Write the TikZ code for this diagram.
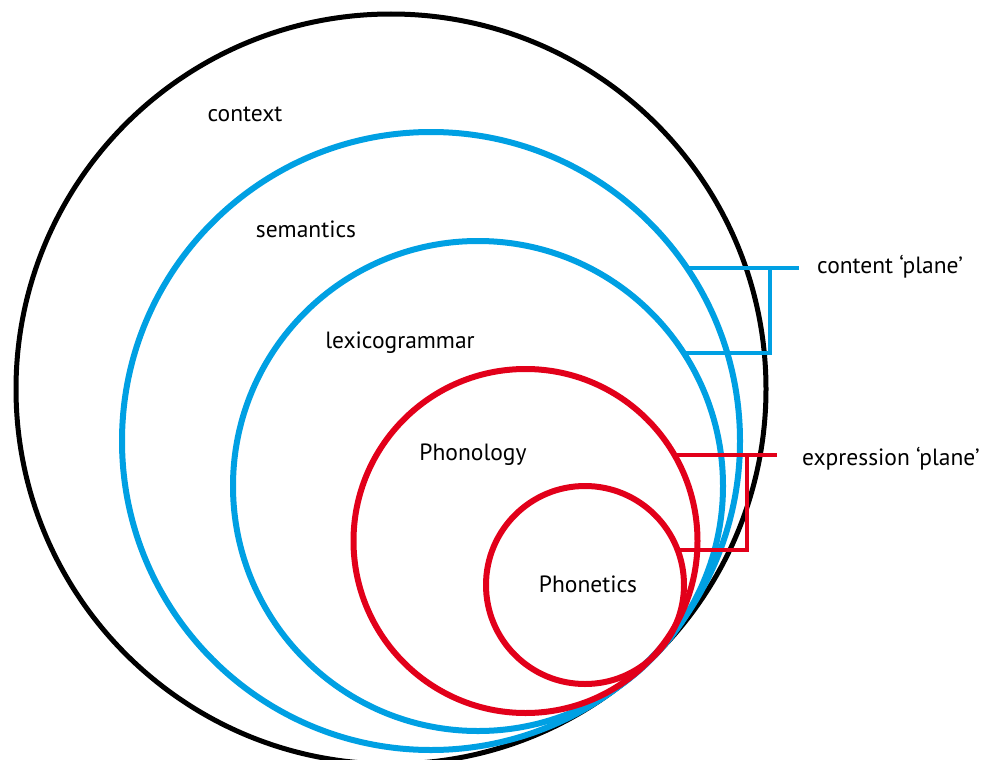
\documentclass[tikz,border=0pt]{standalone}
\usepackage{fontspec}
\setmainfont{PT Sans}
\definecolor{cblue}{RGB}{0,160,227}
\definecolor{cred}{RGB}{226,0,26}
\begin{document}
\begin{tikzpicture}[x=1pt,y=-1pt,
  ring/.style={circle,draw,inner sep=0pt,outer sep=0pt,minimum size=#1},
  lbl/.style={font=\fontsize{23.5}{26}\selectfont,text=black,inner sep=0pt},
  bracketline/.style={line width=4pt,line join=miter}]
\useasboundingbox (0,0) rectangle (985,760);
\fill[white] (0,0) rectangle (985,760);
\node[ring=750pt,line width=5pt,draw=black] (ctx) at (391,389) {};
\node[ring=618pt,line width=6pt,draw=cblue] (sem) at (431,441) {};
\node[ring=490pt,line width=6pt,draw=cblue] (lex) at (478,486) {};
% content bracket
\coordinate (cbx) at (770,0);
\coordinate (cex) at (799,0);
\draw[bracketline,draw=cblue] (sem.34.7) -- (sem.34.7 -| cex);
\draw[bracketline,draw=cblue] (sem.34.7 -| cbx) -- (lex.33.7 -| cbx) -- (lex.33.7);
\node[ring=344pt,line width=6pt,draw=cred] (phon) at (525.5,541) {};
\node[ring=198pt,line width=6pt,draw=cred] (phnt) at (585,585) {};
% expression bracket
\coordinate (ebx) at (747,0);
\coordinate (eex) at (777,0);
\draw[bracketline,draw=cred] (phon.30) -- (phon.30 -| eex);
\draw[bracketline,draw=cred] (phon.30 -| ebx) -- (phnt.21.9 -| ebx) -- (phnt.21.9);
% labels
\node[lbl] (tctx) at (245,114) {context};
\node[lbl] (tsem) at (306,229) {semantics};
\node[lbl] (tlex) at (400,343) {lexicogrammar};
\node[lbl] (tphon) at (473,455) {Phonology};
\node[lbl] (tphnt) at (588,584) {Phonetics};
\node[lbl,anchor=west] (tcp) at (817,267) {content ‘plane’};
\node[lbl,anchor=west] (tep) at (802,459) {expression ‘plane’};
\end{tikzpicture}
\end{document}
